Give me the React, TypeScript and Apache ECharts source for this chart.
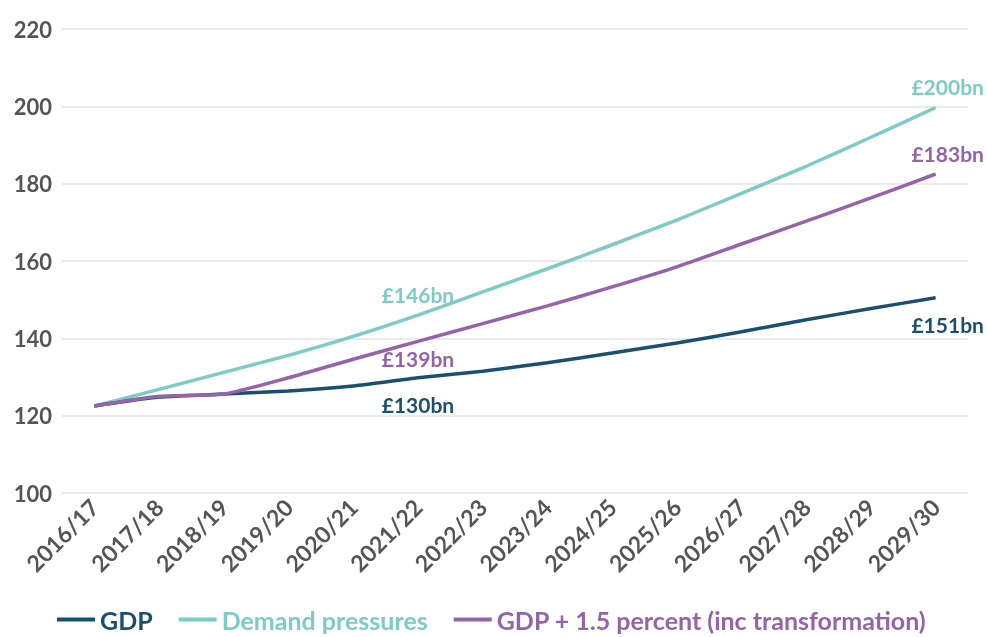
import React, { useEffect, useRef } from "react";
import * as echarts from "echarts";

const categories = ["2016/17","2017/18","2018/19","2019/20","2020/21","2021/22","2022/23","2023/24","2024/25","2025/26","2026/27","2027/28","2028/29","2029/30"];
const gdp = [122.5,124.8,125.6,126.4,127.7,129.8,131.5,133.7,136.2,138.8,141.7,144.8,147.7,150.5];
const demand = [122.5,126.8,131.2,135.6,140.5,146.0,152.0,158.0,164.2,170.6,177.5,184.5,192.0,199.7];
const gdpPlus = [122.5,125.0,125.6,129.8,134.6,139.2,143.8,148.4,153.3,158.5,164.4,170.3,176.3,182.5];
const gdpLabels: Record<number, string> = { 5: "£130bn", 13: "£151bn" };
const demandLabels: Record<number, string> = { 5: "£146bn", 13: "£200bn" };
const gdpPlusLabels: Record<number, string> = { 5: "£139bn", 13: "£183bn" };
const yTicks = { min: 100, max: 220, interval: 20 };

const C_GDP = "#1a506f";
const C_DEM = "#7ccbc6";
const C_PLUS = "#9563aa";
const FONT = "Lato";

function withLabels(values: number[], labels: Record<number, string>, color: string, pos: string, posEnd: string, bottomDist: number) {
  return values.map((v, i) => {
    if (labels[i] === undefined) return v;
    const last = i === values.length - 1;
    const p = last ? posEnd : pos;
    return {
      value: v,
      label: {
        show: true,
        formatter: labels[i],
        position: p,
        distance: p === "bottom" ? bottomDist : 10,
        offset: last ? [12, 0] : [0, 0],
        color,
        fontFamily: FONT,
        fontWeight: "bold",
        fontSize: 21,
      },
    };
  });
}

export default function App() {
  const ref = useRef<HTMLDivElement>(null);
  useEffect(() => {
    if (!ref.current) return;
    const chart = echarts.init(ref.current, undefined, { renderer: "svg" });
    const mkSeries = (name: string, data: any[], color: string, z: number) => ({
      name,
      type: "line",
      data,
      smooth: 0.2,
      symbol: "circle",
      symbolSize: 0.1,
      showSymbol: true,
      z,
      lineStyle: { color, width: 3.5 },
      itemStyle: { color },
      label: { show: false },
    });
    chart.setOption({
      animation: false,
      textStyle: { fontFamily: FONT },
      grid: { left: 62, right: 19, top: 29, bottom: 144 },
      xAxis: {
        type: "category",
        data: categories,
        boundaryGap: true,
        axisLine: { show: false },
        axisTick: { show: false },
        axisLabel: {
          rotate: 45,
          margin: 10,
          interval: 0,
          color: "#555555",
          fontFamily: FONT,
          fontWeight: "bold",
          fontSize: 23,
        },
      },
      yAxis: {
        type: "value",
        min: yTicks.min,
        max: yTicks.max,
        interval: yTicks.interval,
        axisLine: { show: false },
        axisTick: { show: false },
        splitLine: { lineStyle: { color: "#e3e3e3", width: 1.5 } },
        axisLabel: {
          margin: 10,
          color: "#555555",
          fontFamily: FONT,
          fontWeight: "bold",
          fontSize: 22,
        },
      },
      legend: {
        bottom: 0,
        left: 52,
        itemWidth: 38,
        itemHeight: 4,
        itemGap: 26,
        icon: "rect",
        data: [
          { name: "GDP", textStyle: { color: C_GDP } },
          { name: "Demand pressures", textStyle: { color: C_DEM } },
          { name: "GDP + 1.5 percent (inc transformation)", textStyle: { color: C_PLUS } },
        ],
        textStyle: { fontFamily: FONT, fontWeight: "bold", fontSize: 25 },
      },
      series: [
        mkSeries("GDP", withLabels(gdp, gdpLabels, C_GDP, "bottom", "bottom", 16), C_GDP, 3),
        mkSeries("Demand pressures", withLabels(demand, demandLabels, C_DEM, "top", "top", 16), C_DEM, 2),
        mkSeries("GDP + 1.5 percent (inc transformation)", withLabels(gdpPlus, gdpPlusLabels, C_PLUS, "bottom", "top", 7), C_PLUS, 4),
      ],
    });
    return () => chart.dispose();
  }, []);
  return <div ref={ref} style={{ position: "fixed", left: 0, top: 0, width: 987, height: 637 }} />;
}
